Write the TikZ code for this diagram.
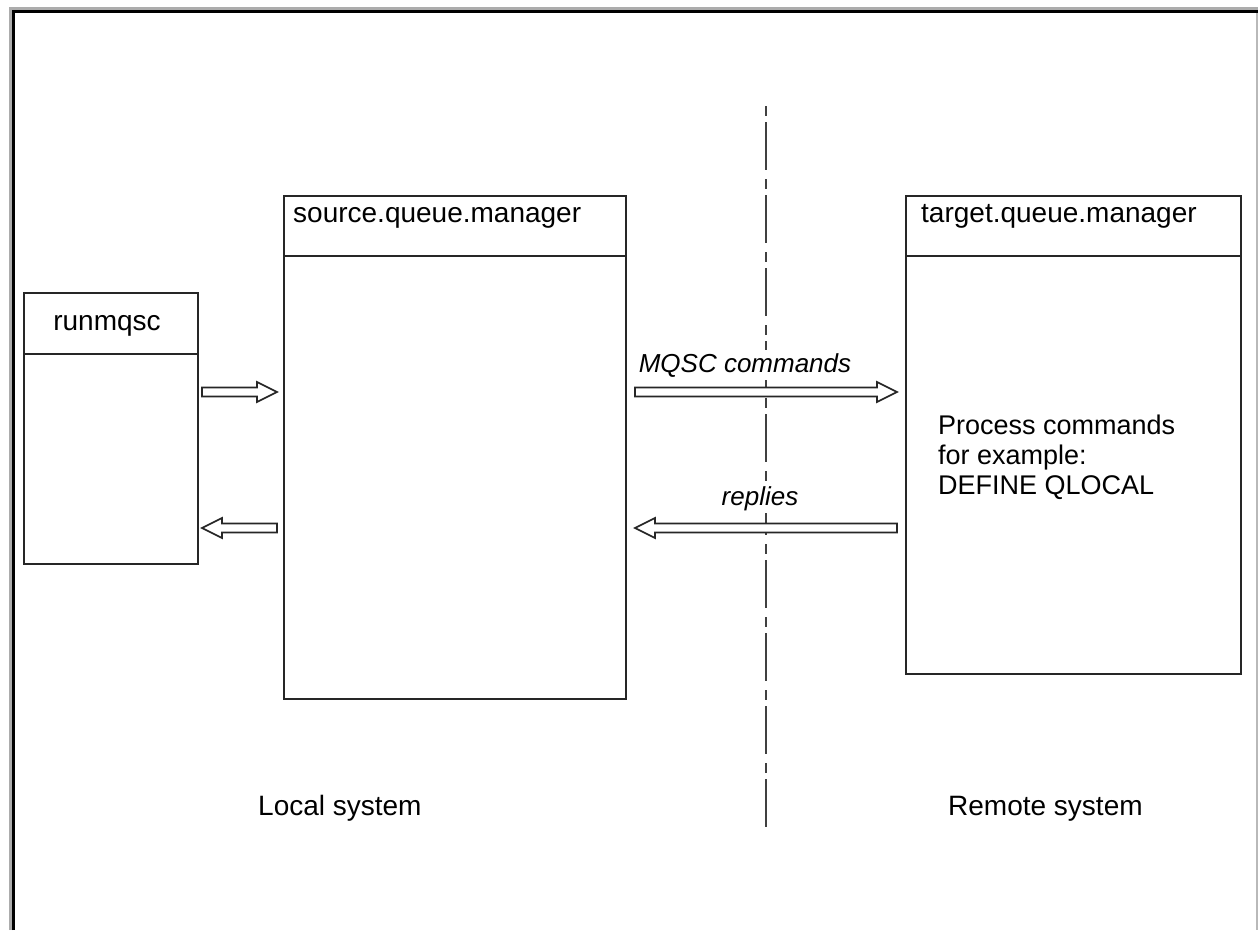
\documentclass[tikz,border=0pt]{standalone}
\usepackage{fontspec}
\setmainfont{Liberation Sans}
\usetikzlibrary{calc}
\tikzset{
  boxline/.style={draw=black!85, line width=1.8pt},
  part/.style={boxline, rectangle, inner sep=0pt, anchor=north west},
  hdr/.style={font=\fontsize{28}{30}\selectfont, anchor=base west, inner sep=0pt},
  lbl/.style={font=\fontsize{26}{28}\selectfont\itshape, anchor=base, inner sep=3pt, fill=white},
  body/.style={font=\fontsize{27}{30}\selectfont, anchor=base west, inner sep=0pt},
  sys/.style={font=\fontsize{28}{30}\selectfont, anchor=base west, inner sep=0pt},
  arrowline/.style={draw=black!85, line width=1.6pt, fill=white, line join=miter},
  sepline/.style={draw=black!75, line width=2.2pt, dash pattern=on 10pt off 6pt on 48pt off 9pt}
}
\newcommand\hollowarrow[2]{%
  \path[arrowline] let \p1=(#1), \p2=(#2), \n1={sign(\x2-\x1)} in
    (\x1, \y1+4.5pt) -- (\x2-\n1*20pt, \y1+4.5pt) -- (\x2-\n1*20pt, \y1+10pt)
    -- (\x2, \y1) -- (\x2-\n1*20pt, \y1-10pt) -- (\x2-\n1*20pt, \y1-4.5pt)
    -- (\x1, \y1-4.5pt) -- cycle;
}
\begin{document}
\begin{tikzpicture}[x=1pt, y=-1pt]
\useasboundingbox (0,0) rectangle (1258,930);
\fill[white] (0,0) rectangle (1258,930);
% frame
\draw[gray!65, line width=3pt] (10.5,930) -- (10.5,8.5) -- (1258,8.5);
\draw[black, line width=3pt] (13.5,930) -- (13.5,11.5) -- (1258,11.5);
\draw[gray!55, line width=2pt] (1257,13) -- (1257,930);

% runmqsc box
\node[part, minimum width=174pt, minimum height=61pt] (runh) at (23,292) {};
\node[part, minimum width=174pt, minimum height=210pt] (runb) at (23,353) {};
\node[hdr, anchor=base] (runt) at (107,330) {runmqsc};

% source queue manager
\node[part, minimum width=342pt, minimum height=60pt] (srch) at (283,195) {};
\node[part, minimum width=342pt, minimum height=443pt] (srcb) at (283,255) {};
\node[hdr] (srct) at (293,222) {source.queue.manager};

% target queue manager
\node[part, minimum width=335pt, minimum height=60pt] (tgth) at (905,195) {};
\node[part, minimum width=335pt, minimum height=418pt] (tgtb) at (905,255) {};
\node[hdr] (tgtt) at (921,222) {target.queue.manager};

% process text
\node[body] (p1) at (938,434) {Process commands};
\node[body] (p2) at (938,464) {for example:};
\node[body] (p3) at (938,494) {DEFINE QLOCAL};

% separator
\coordinate (septop) at (766,106);
\coordinate (sepbot) at (766,835);
\draw[sepline] (septop) -- (sepbot);

% arrows
\coordinate (a1s) at (202,392);
\coordinate (a1e) at (277,392);
\coordinate (a2s) at (277,528);
\coordinate (a2e) at (202,528);
\coordinate (a3s) at (635,392);
\coordinate (a3e) at (897,392);
\coordinate (a4s) at (897,528);
\coordinate (a4e) at (635,528);
\hollowarrow{a1s}{a1e}
\hollowarrow{a2s}{a2e}
\hollowarrow{a3s}{a3e}
\hollowarrow{a4s}{a4e}

\node[lbl] (mqsc) at (745,372) {MQSC commands};
\node[lbl] (repl) at (760,505) {replies};

% system labels
\node[sys] (local) at (258,815) {Local system};
\node[sys] (remote) at (948,815) {Remote system};
\end{tikzpicture}
\end{document}
